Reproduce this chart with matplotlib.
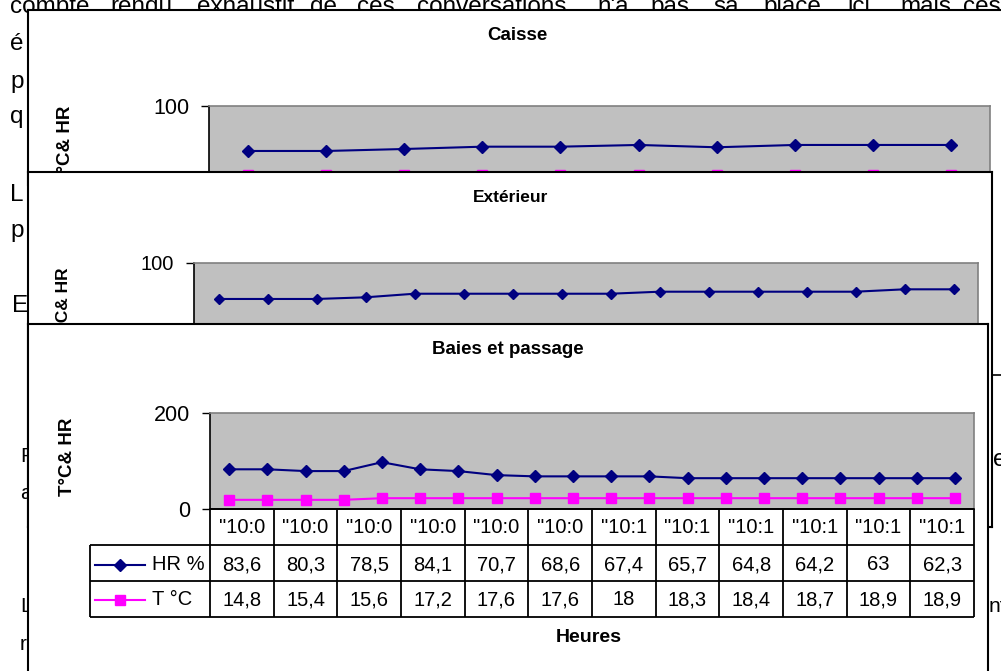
import matplotlib
matplotlib.use("Agg")
import matplotlib.pyplot as plt
import numpy as np
from matplotlib.lines import Line2D

plt.rcParams['font.family'] = ['Liberation Sans', 'DejaVu Sans']

# ---------------- data ----------------
caisse_hr = [47.7, 47.7, 50.0, 52.7, 52.7, 54.7, 52.0, 54.7, 54.7, 54.7]
caisse_t = [19.2, 19.2, 19.2, 19.2, 19.2, 19.2, 19.2, 19.2, 19.2, 19.2]

ext_hr = [60.9, 60.9, 60.9, 62.7, 66.6, 66.6, 66.6, 66.6, 66.6,
          68.8, 68.8, 68.8, 68.8, 68.8, 71.4, 71.4]

baies_hr = [82.7, 82.7, 79.0, 79.0, 97.5, 82.7, 79.0, 70.6, 68.0, 68.0,
            68.0, 68.0, 64.2, 64.2, 64.2, 64.2, 64.2, 64.2, 64.2, 64.2]
baies_t = [19.1, 19.1, 19.1, 19.1, 22.5, 22.5, 22.5, 22.5, 22.5, 22.5,
           22.5, 22.5, 22.5, 22.5, 22.5, 22.5, 22.5, 22.5, 22.5, 22.5]

table_cats = ['"10:0', '"10:0', '"10:0', '"10:0', '"10:0', '"10:0',
              '"10:1', '"10:1', '"10:1', '"10:1', '"10:1', '"10:1']
table_hr = [83.6, 80.3, 78.5, 84.1, 70.7, 68.6, 67.4, 65.7, 64.8, 64.2, 63, 62.3]
table_t = [14.8, 15.4, 15.6, 17.2, 17.6, 17.6, 18, 18.3, 18.4, 18.7, 18.9, 18.9]
series_names = ["HR %", "T °C"]

titles = ["Caisse", "Extérieur", "Baies et passage"]
ylabel = "T°C& HR"
xlabel = "Heures"

top_words = ["compte", "rendu", "exhaustif", "de", "ces", "conversations",
             "n'a", "pas", "sa", "place", "ici,", "mais", "ces"]

# ---------------- layout helpers ----------------
W, H = 1001, 671
fig = plt.figure(figsize=(W / 100, H / 100), dpi=100)
fig.patch.set_facecolor('white')


def rect(x0, y0, x1, y1):
    return [x0 / W, 1 - y1 / H, (x1 - x0) / W, (y1 - y0) / H]


def fx(x):
    return x / W


def fy(y):
    return 1 - y / H


NAVY = '#000080'
MAG = '#FF00FF'

# ---------------- background document text ----------------
top_x = [10, 110, 197, 310, 357, 417, 597, 650, 713, 763, 847, 900, 963]
for w, x in zip(top_words, top_x):
    fig.text(fx(x), fy(13), w, fontsize=17.5, ha='left', va='baseline', zorder=0)

frags = [("é", 10, 50, 17.5), ("p", 10, 88, 17.5), ("q", 10, 123, 17.5),
         ("L", 10, 201, 17.5), ("p", 10, 237, 17.5), ("E", 12, 312, 17.5),
         ("F", 20, 462, 15), ("a", 20, 499, 15), ("L", 20, 612, 15),
         ("r", 20, 650, 15), ("e", 993, 466, 17.5), ("nt", 989, 612, 15)]
for s, x, y, fs in frags:
    fig.text(fx(x), fy(y), s, fontsize=fs, ha='left', va='baseline', zorder=0)

fig.add_artist(Line2D([fx(993), fx(1001)], [fy(375), fy(375)],
                      color='black', lw=1.2, zorder=0))


# ---------------- chart building blocks ----------------
def frame(box, z, hide=()):
    ax = fig.add_axes(rect(*box), zorder=z)
    ax.set_facecolor('white')
    ax.set_xticks([])
    ax.set_yticks([])
    for k, s in ax.spines.items():
        s.set_linewidth(1.5)
        s.set_color('black')
        if k in hide:
            s.set_visible(False)
    return ax


def panel(box, z, ymax, hr, t, ms_d, tick_fs):
    ax = fig.add_axes(rect(*box), zorder=z)
    ax.set_facecolor('#C0C0C0')
    x = np.arange(len(hr))
    ax.plot(x, hr, color=NAVY, lw=1.5, marker='D', ms=ms_d,
            mfc=NAVY, mec=NAVY)
    if t is not None:
        ax.plot(x, t, color=MAG, lw=1.5, marker='s', ms=7.4,
                mfc=MAG, mec=MAG)
    ax.set_xlim(-0.5, len(hr) - 0.5)
    ax.set_ylim(0, ymax)
    ax.set_xticks([])
    ax.set_yticks([0, ymax])
    ax.tick_params(axis='y', direction='out', length=5.8, width=1.0,
                   pad=8.5, labelsize=tick_fs, colors='black')
    for k in ('left', 'bottom'):
        ax.spines[k].set_color('black')
        ax.spines[k].set_linewidth(1.2)
    for k in ('top', 'right'):
        ax.spines[k].set_color('#808080')
        ax.spines[k].set_linewidth(1.2)
    return ax


# ---------------- Chart 1 : Caisse ----------------
frame((28, 10, 1020, 185), 1, hide=('bottom', 'right'))
panel((209, 106, 990, 192), 1.5, 100, caisse_hr, caisse_t, 6.4, 15.5)
fig.text(fx(517), fy(36), titles[0], fontsize=13.5, fontweight='bold',
         ha='center', va='center', zorder=1.6)
fig.text(fx(66), fy(145), ylabel, fontsize=13.5, fontweight='bold',
         rotation=90, ha='center', va='center', zorder=1.6)

# ---------------- Chart 2 : Extérieur ----------------
frame((28, 172, 992, 527), 2)
panel((194, 263, 978, 355), 2.5, 100, ext_hr, None, 5.4, 14.5)
fig.text(fx(511), fy(198), titles[1], fontsize=12.5, fontweight='bold',
         ha='center', va='center', zorder=2.6)
fig.text(fx(63), fy(304), ylabel, fontsize=12.5, fontweight='bold',
         rotation=90, ha='center', va='center', zorder=2.6)

# ---------------- Chart 3 : Baies et passage ----------------
frame((28, 324, 988, 720), 3)
panel((210, 413, 974, 509), 3.5, 200, baies_hr, baies_t, 6.4, 15.5)
fig.text(fx(508), fy(350), titles[2], fontsize=13.5, fontweight='bold',
         ha='center', va='center', zorder=3.7)
fig.text(fx(68), fy(457), ylabel, fontsize=13.5, fontweight='bold',
         rotation=90, ha='center', va='center', zorder=3.7)
fig.text(fx(589), fy(637), xlabel, fontsize=14, fontweight='bold',
         ha='center', va='center', zorder=3.7)

# data table
tab = fig.add_axes(rect(90, 509, 974, 617), zorder=3.6)
tab.set_axis_off()
ncol = len(table_cats)
colw = (974 - 210) / ncol
L = 120 / colw
tab.set_xlim(-L, ncol)
tab.set_ylim(3, 0)
lk = dict(color='black', lw=1.3, clip_on=False)
tab.vlines(np.arange(ncol + 1), 0, 3, **lk)
tab.hlines([0], 0, ncol, **lk)
tab.hlines([1, 2, 3], -L, ncol, **lk)
tab.vlines([-L], 1, 3, **lk)


def fmt(v):
    s = ('%g' % v)
    return s.replace('.', ',')


TFS = 14.5
for i, c in enumerate(table_cats):
    tab.text(i + 0.5, 0.52, c, ha='center', va='center', fontsize=TFS)
for i, (h, t) in enumerate(zip(table_hr, table_t)):
    tab.text(i + 0.5, 1.55, fmt(h), ha='center', va='center', fontsize=TFS)
    tab.text(i + 0.5, 2.52, fmt(t), ha='center', va='center', fontsize=TFS)

styles = [(NAVY, 'D', 6.4), (MAG, 's', 7.4)]
for r, (name, (col, mk, ms)) in enumerate(zip(series_names, styles)):
    yy = 1.55 + r * 0.97
    tab.plot([-L + 5 / colw, -L + 55 / colw], [yy, yy], color=col, lw=1.5,
             clip_on=False)
    tab.plot([-L + 30 / colw], [yy], marker=mk, ms=ms, color=col,
             mfc=col, mec=col, clip_on=False)
    tab.text(-L + 62 / colw, yy, name, ha='left', va='center', fontsize=TFS)

fig.savefig('out.png', dpi=100, facecolor='white')
